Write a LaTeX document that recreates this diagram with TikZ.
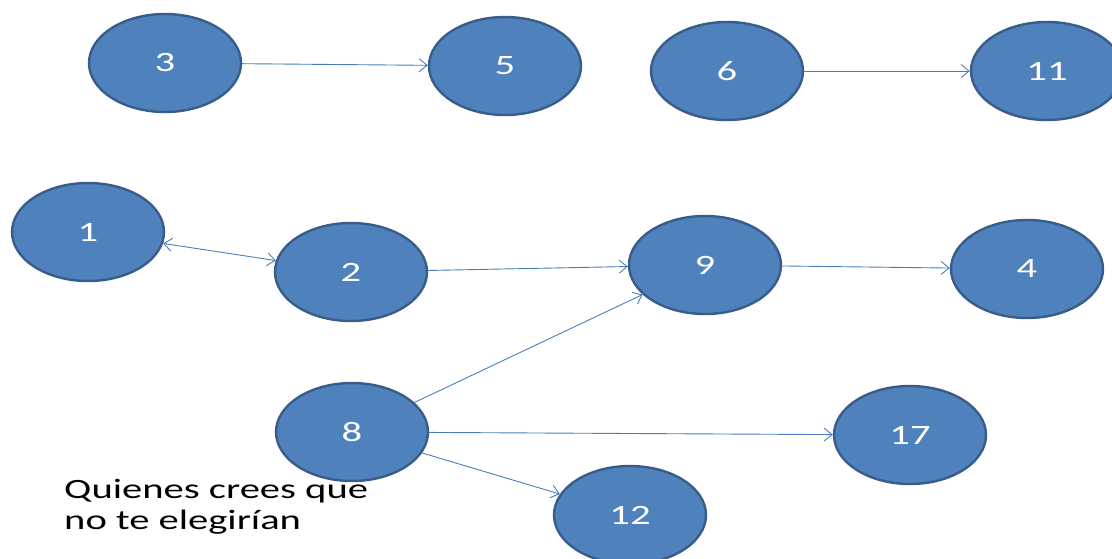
\documentclass[tikz,border=0pt]{standalone}
\usepackage{fontspec}
\setmainfont{Carlito}
\newfontfamily\widefont[FakeStretch=1.45]{Carlito}
\usepackage{tikz}
\usetikzlibrary{shapes.geometric, arrows.meta, positioning}

\definecolor{nodefill}{HTML}{4F81BD}
\definecolor{nodeline}{HTML}{385D8A}
\definecolor{arrowcol}{HTML}{4A7EBB}

\begin{document}
\begin{tikzpicture}[x=1pt,y=-1pt,
	person/.style={ellipse, draw=nodeline, line width=2.4pt, fill=nodefill,
		minimum width=152pt, minimum height=98pt, text=white, font=\widefont\fontsize{28}{32}\selectfont},
	choice/.style={draw=arrowcol, line width=0.9pt, -{Straight Barb[length=8pt,width=13pt]}}]
	\useasboundingbox (0,0) rectangle (1112,558);
	\begin{scope}
	\clip (0,0) rectangle (1112,558);
	\node[person] (n3) at (165,63) {3};
	\node[person] (n5) at (505,66) {5};
	\node[person] (n6) at (727,71) {6};
	\node[person] (n11) at (1047,71) {11};
	\node[person] (n1) at (88,232) {1};
	\node[person] (n2) at (351,272) {2};
	\node[person] (n9) at (705,265) {9};
	\node[person] (n4) at (1027,269) {4};
	\node[person] (n8) at (352,432) {8};
	\node[person] (n17) at (910,435) {17};
	\node[person] (n12) at (630,515) {12};
	\end{scope}
	\draw[choice] (n3) -- (n5);
	\draw[choice] (n6) -- (n11);
	\draw[choice, {Straight Barb[length=8pt,width=13pt]}-{Straight Barb[length=8pt,width=13pt]}] (n1) -- (n2);
	\draw[choice] (n2) -- (n9);
	\draw[choice] (n9) -- (n4);
	\draw[choice] (n8) -- (n9);
	\draw[choice] (n8) -- (n17);
	\draw[choice] (n8) -- (n12);
	% leyenda
	\node[anchor=north west, align=left, font=\widefont\fontsize{28}{31}\selectfont, inner sep=0pt] (note) at (64,479)
		{Quienes crees que\\no te elegirían};
\end{tikzpicture}
\end{document}
